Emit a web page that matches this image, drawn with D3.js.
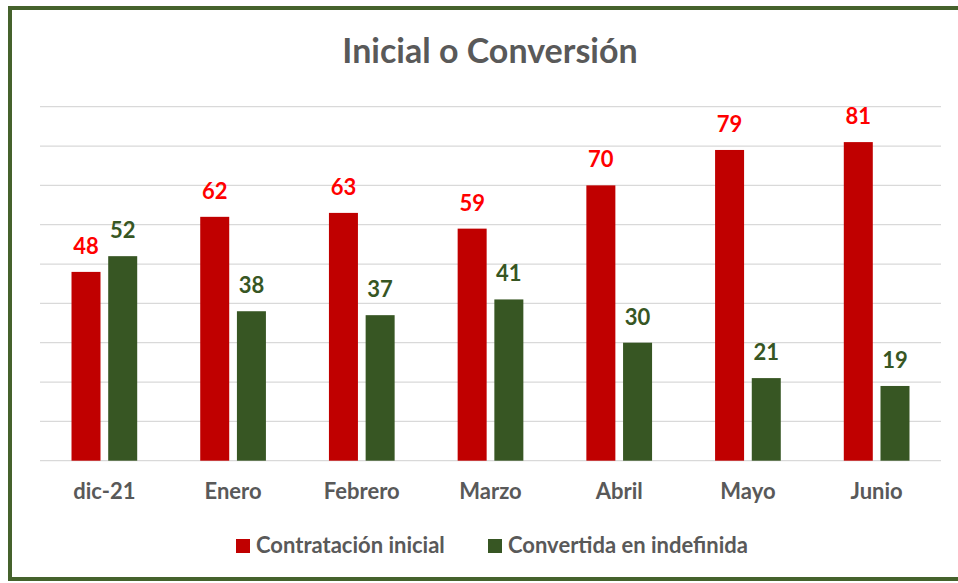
<!DOCTYPE html>
<html>
<head>
<meta charset="utf-8">
<script src="https://cdn.jsdelivr.net/npm/d3@7"></script>
<style>
  body { margin: 0; background: #fff; }
  svg text { font-family: Lato, "Open Sans", sans-serif; font-weight: bold; }
</style>
</head>
<body>
<div class="chart"></div>
<script>
var categories = ["dic-21", "Enero", "Febrero", "Marzo", "Abril", "Mayo", "Junio"];
var inicial = [48, 62, 63, 59, 70, 79, 81];
var convertida = [52, 38, 37, 41, 30, 21, 19];
var seriesNames = ["Contratación inicial", "Convertida en indefinida"];
var yTicks = [0, 10, 20, 30, 40, 50, 60, 70, 80, 90];

function loadChart(){
  var width = 958, height = 583;
  var svg = d3.select(".chart").append("svg")
              .attr("width", width)
              .attr("height", height);

  // border
  svg.append("rect")
     .attr("x", 10).attr("y", 8)
     .attr("width", 960).attr("height", 571)
     .style("fill", "none")
     .style("stroke", "#45622c")
     .style("stroke-width", 4);

  svg.append("text")
     .attr("x", 490).attr("y", 63)
     .attr("text-anchor", "middle")
     .style("font-size", "34px")
     .style("fill", "#595959")
     .text("Inicial o Conversión");

  var x = d3.scaleBand().domain(categories).range([40, 941]);
  var y = d3.scaleLinear().domain([0, 90]).range([460.7, 106.7]);
  var barW = 29, gap = 7.7;
  var off = (x.bandwidth() - (2 * barW + gap)) / 2;

  // gridlines
  svg.append("g").selectAll("line")
     .data(yTicks)
     .enter().append("line")
     .attr("x1", 40).attr("x2", 941)
     .attr("y1", function(d){ return y(d); })
     .attr("y2", function(d){ return y(d); })
     .style("stroke", "#d9d9d9")
     .style("stroke-width", 1.3);

  var data = categories.map(function(c, i){
    return { cat: c, a: inicial[i], b: convertida[i] };
  });

  var series = [
    { key: "a", fill: "#c00000", label: "#ff0000", dx: off },
    { key: "b", fill: "#375623", label: "#375623", dx: off + barW + gap }
  ];

  series.forEach(function(s){
    var g = svg.append("g");
    g.selectAll("rect")
     .data(data)
     .enter().append("rect")
     .attr("x", function(d){ return x(d.cat) + s.dx; })
     .attr("y", function(d){ return y(d[s.key]); })
     .attr("width", barW)
     .attr("height", function(d){ return y(0) - y(d[s.key]); })
     .style("fill", s.fill);

    g.selectAll("text")
     .data(data)
     .enter().append("text")
     .attr("x", function(d){ return x(d.cat) + s.dx + barW / 2; })
     .attr("y", function(d){ return y(d[s.key]) - 18; })
     .attr("text-anchor", "middle")
     .style("font-size", "22px")
     .style("fill", s.label)
     .text(function(d){ return d[s.key]; });
  });

  // category labels
  svg.append("g").selectAll("text")
     .data(categories)
     .enter().append("text")
     .attr("x", function(d){ return x(d) + x.bandwidth() / 2; })
     .attr("y", 499)
     .attr("text-anchor", "middle")
     .style("font-size", "22px")
     .style("fill", "#595959")
     .text(function(d){ return d; });

  // legend
  var legendX = [236, 488];
  var leg = svg.append("g").selectAll("g")
     .data(seriesNames)
     .enter().append("g");
  leg.append("rect")
     .attr("x", function(d, i){ return legendX[i]; })
     .attr("y", 539)
     .attr("width", 14).attr("height", 14)
     .style("fill", function(d, i){ return series[i].fill; });
  leg.append("text")
     .attr("x", function(d, i){ return legendX[i] + 20; })
     .attr("y", 553)
     .style("font-size", "22px")
     .style("fill", "#595959")
     .text(function(d){ return d; });
}

loadChart();
</script>
</body>
</html>
